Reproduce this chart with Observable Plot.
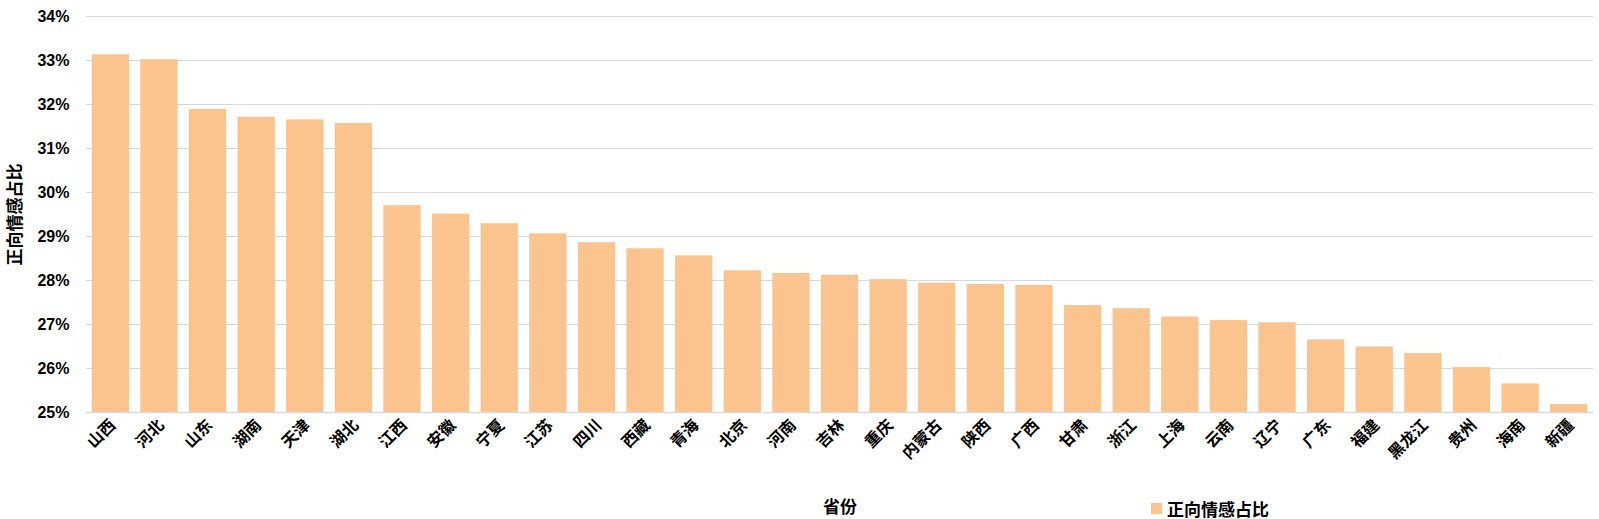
<!DOCTYPE html>
<html>
<head>
<meta charset="utf-8">
<script src="https://cdn.jsdelivr.net/npm/d3@7"></script>
<script src="https://cdn.jsdelivr.net/npm/@observablehq/plot@0.6"></script>
<style>
  html, body { margin: 0; padding: 0; background: #fff; }
  #wrap { position: relative; width: 1599px; height: 519px; font-family: "Liberation Sans", Arial, "Noto Sans CJK SC", sans-serif; font-weight: bold; }
  #legend { position: absolute; left: 1151px; top: 496px; font-size: 17px; color: #000; display: flex; align-items: center; }
  #legend .sw { width: 11px; height: 11px; background: #FBC48F; margin-right: 5px; }
</style>
</head>
<body>
<div id="wrap"><div id="legend"><span class="sw"></span><span>正向情感占比</span></div></div>
<script>
const provinces = ["山西","河北","山东","湖南","天津","湖北","江西","安徽","宁夏","江苏","四川","西藏","青海","北京","河南","吉林","重庆","内蒙古","陕西","广西","甘肃","浙江","上海","云南","辽宁","广东","福建","黑龙江","贵州","海南","新疆"];
const values = [33.13,33.02,31.89,31.71,31.65,31.57,29.70,29.51,29.29,29.06,28.86,28.72,28.56,28.22,28.16,28.12,28.02,27.94,27.91,27.89,27.43,27.36,27.17,27.09,27.04,26.65,26.49,26.34,26.02,25.65,25.18];
const yTicks = [25,26,27,28,29,30,31,32,33,34];
const seriesName = "正向情感占比";
const xTitle = "省份";
const barColor = "#FBC48F";

const data = provinces.map((p, i) => ({province: p, value: values[i]}));
const yMin = yTicks[0];

const chart = Plot.plot({
  width: 1599,
  height: 519,
  marginLeft: 86,
  marginRight: 6,
  marginTop: 16,
  marginBottom: 107,
  style: {fontFamily: '"Liberation Sans", Arial, "Noto Sans CJK SC", sans-serif', fontWeight: "bold", fontSize: "16px", color: "#000", background: "#fff"},
  x: {domain: provinces, paddingInner: 0.233, paddingOuter: 0.117, align: 0.5, round: false},
  y: {domain: [yTicks[0], yTicks[yTicks.length - 1]]},
  marks: [
    Plot.gridY(yTicks, {stroke: "#d9d9d9", strokeOpacity: 1, strokeWidth: 1}),
    Plot.barY(data, {x: "province", y1: d => yMin, y2: "value", fill: barColor}),
    Plot.ruleY([yMin], {stroke: "#d9d9d9", strokeWidth: 1.5}),
    Plot.axisY({ticks: yTicks, tickSize: 0, tickPadding: 17, tickFormat: d => d + "%", fontSize: 16,
      label: seriesName, labelAnchor: "center", labelArrow: "none", labelOffset: 78}),
    Plot.axisX({ticks: [], tickSize: 0,
      label: xTitle, labelAnchor: "center", labelArrow: "none", labelOffset: 100}),
    Plot.text(provinces, {x: d => d, frameAnchor: "bottom", rotate: -45, textAnchor: "end", lineAnchor: "middle",
      dy: 10, dx: 2, fontSize: 16, fontWeight: "bold", fill: "#000"})
  ]
});
const wrap = document.getElementById("wrap");
wrap.prepend(chart);
chart.querySelectorAll("g[aria-label='y-axis label'] text, g[aria-label='x-axis label'] text").forEach(t => t.setAttribute("font-size", "17"));
</script>
</body>
</html>
